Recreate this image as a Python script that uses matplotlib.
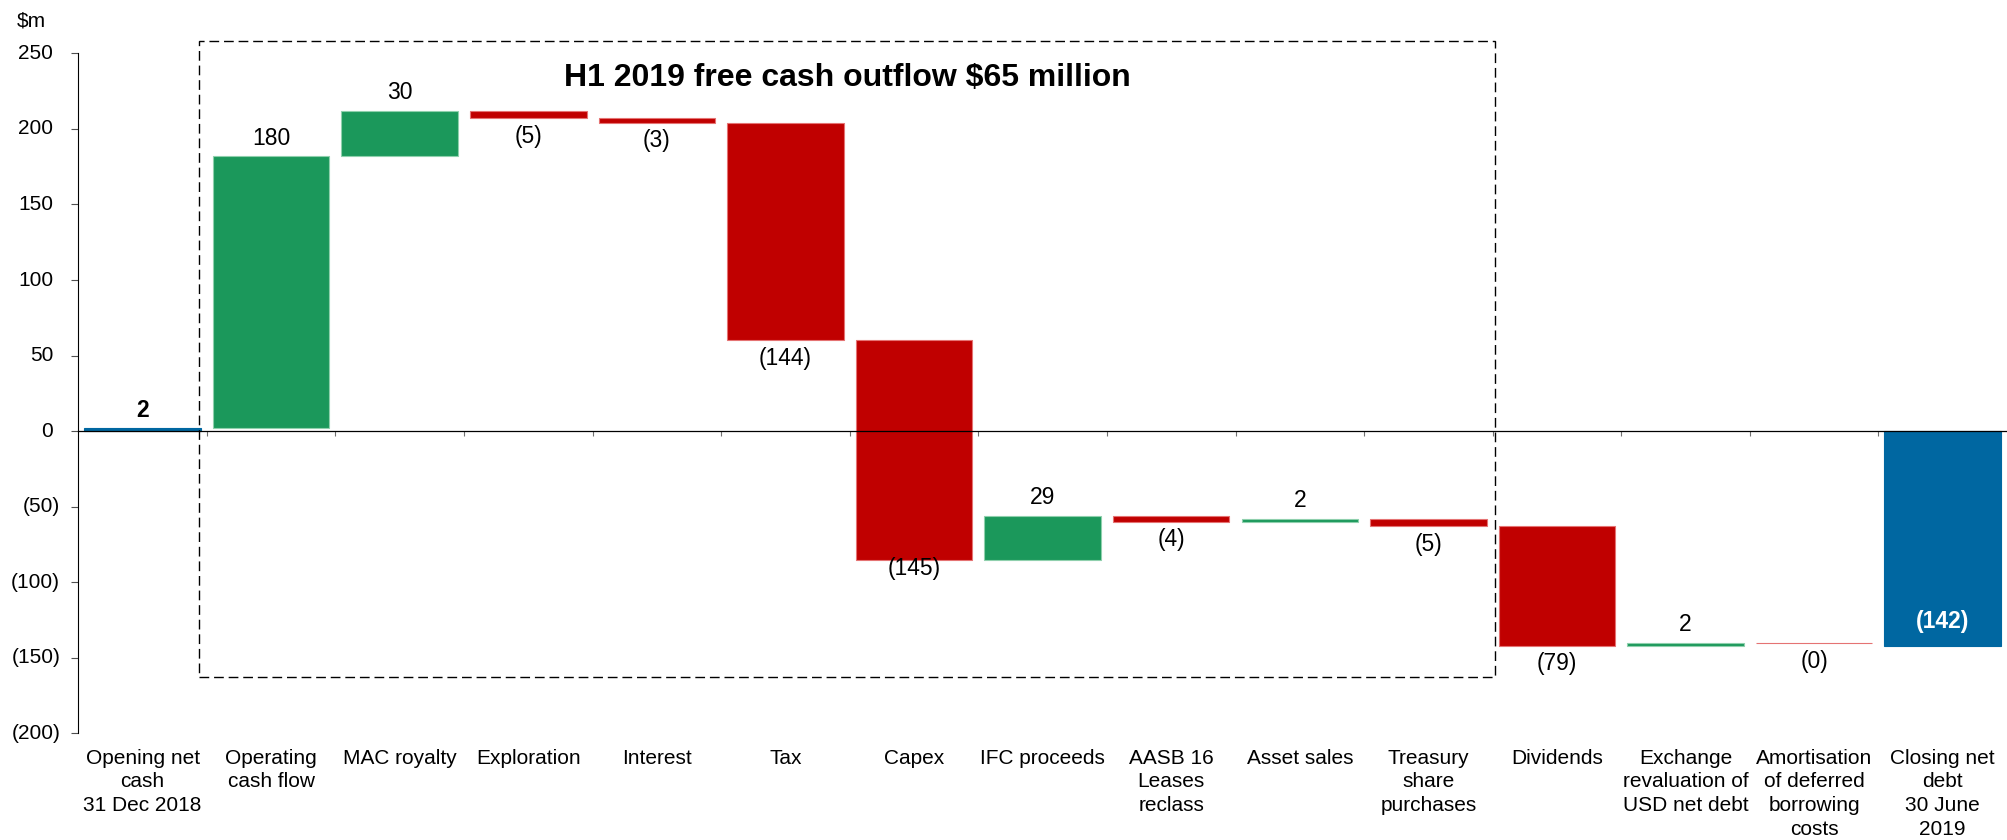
# -*- coding: utf-8 -*-
'''Net cash bridge for H1 2019 as a waterfall chart'''

import matplotlib
matplotlib.use('Agg')
import matplotlib.pyplot as plt
from matplotlib.patches import Rectangle

plt.rcParams['font.family'] = ['Liberation Sans', 'DejaVu Sans']

categories = [
	'Opening net\ncash\n31 Dec 2018', 'Operating\ncash flow', 'MAC royalty', 'Exploration',
	'Interest', 'Tax', 'Capex', 'IFC proceeds', 'AASB 16\nLeases\nreclass', 'Asset sales',
	'Treasury\nshare\npurchases', 'Dividends', 'Exchange\nrevaluation of\nUSD net debt',
	'Amortisation\nof deferred\nborrowing\ncosts', 'Closing net\ndebt\n30 June\n2019',
]
# $m; first and last entries are balances, the rest are movements
values = [2, 180, 30, -5, -3, -144, -145, 29, -4, 2, -5, -79, 2, -0.3, -142]
is_total = [True] + [False] * 13 + [True]

yticks = [-200, -150, -100, -50, 0, 50, 100, 150, 200, 250]

GREEN = '#1b985b'
RED = '#c00000'
BLUE = '#0067a1'
EDGE = {GREEN: '#8fd0ad', RED: '#e57373', BLUE: BLUE}

# work out the floating bars
bottoms, heights, colours = [], [], []
running = 0
for v, total in zip(values, is_total):
	if total:
		bottoms.append(0)
		heights.append(v)
		colours.append(BLUE)
		running = v
	else:
		bottoms.append(running)
		heights.append(v)
		colours.append(GREEN if v > 0 else RED)
		running += v

def fmt(v):
	return '(%.0f)' % abs(v) if v < 0 else '%.0f' % v

fig = plt.figure(figsize=(20.07, 8.4), dpi=100)
ax = fig.add_axes([0.039, 0.127, 0.961, 0.8095])

x = list(range(len(categories)))
ax.bar(x, heights, bottom=bottoms, width=0.906, color=colours,
	   edgecolor=[EDGE[c] for c in colours], linewidth=0.8, zorder=1)

ax.set_xlim(-0.5, 14.5)
ax.set_ylim(-200, 250)

for side in ('top', 'right'):
	ax.spines[side].set_visible(False)
ax.spines['bottom'].set_position(('data', 0))
ax.spines['bottom'].set_linewidth(0.9)
ax.spines['bottom'].set_zorder(4)
ax.spines['left'].set_linewidth(0.8)

ax.set_xticks([i + 0.5 for i in range(14)])
ax.set_xticklabels([])
ax.tick_params(axis='x', direction='out', length=3.6, width=0.8, color='#707070')

ax.set_yticks(yticks)
ax.set_yticklabels([])
ax.tick_params(axis='y', direction='out', length=4.8, width=0.8, color='#505050')

# accounting style y labels, closing bracket hangs past the digits
for v in yticks:
	shift = 5 if v < 0 else 0
	ax.annotate(fmt(v), xy=(0, v), xycoords=('axes fraction', 'data'),
				xytext=(-18 + shift, 0), textcoords='offset points',
				ha='right', va='center', fontsize=15)

# category names under the plot
for i, name in enumerate(categories):
	ax.annotate(name, xy=(i, 0), xycoords=('data', 'axes fraction'),
				xytext=(0, -11), textcoords='offset points',
				ha='center', va='top', fontsize=15, linespacing=1.31)

# value labels
for i, (v, b, h, total) in enumerate(zip(values, bottoms, heights, is_total)):
	gap = 6.5 if categories[i] == 'Capex' else 13
	if total and v < 0:
		ax.annotate(fmt(v), xy=(i, b + h), xytext=(0, 17.7), textcoords='offset points',
					ha='center', va='center', fontsize=16.5, weight='bold', color='white')
	elif total:
		ax.annotate(fmt(v), xy=(i, b + h), xytext=(0, gap), textcoords='offset points',
					ha='center', va='center', fontsize=16.5, weight='bold')
	elif v > 0:
		ax.annotate(fmt(v), xy=(i, b + h), xytext=(0, gap), textcoords='offset points',
					ha='center', va='center', fontsize=16.5)
	else:
		ax.annotate(fmt(v), xy=(i, b + h), xytext=(0, -gap), textcoords='offset points',
					ha='center', va='center', fontsize=16.5)

# free cash flow group
ax.add_patch(Rectangle((0.44, -162.8), 10.52 - 0.44, 258.1 + 162.8, fill=False,
					   edgecolor='black', linewidth=1.0, linestyle=(0, (7, 3.5)),
					   clip_on=False, zorder=3))
ax.text(5.48, 234, r'H1 2019 free cash outflow \$65 million', ha='center', va='center',
		fontsize=23, weight='bold')

fig.text(17 / 2007, 1 - 21 / 840, r'\$m', ha='left', va='center', fontsize=15)

plt.savefig('out.png', dpi=100)
